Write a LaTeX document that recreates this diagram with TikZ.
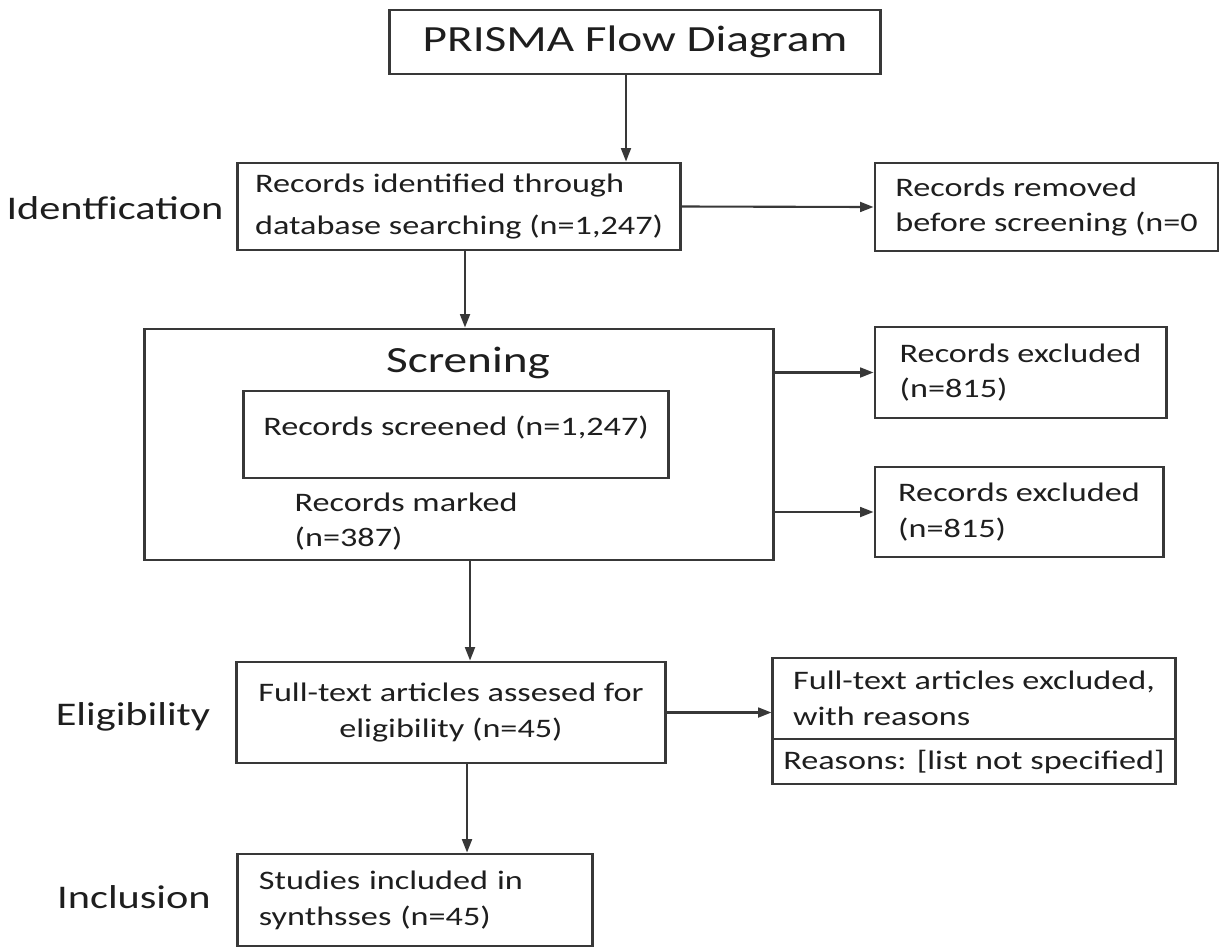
\documentclass[tikz,border=0pt]{standalone}
\usepackage{fontspec}
\setmainfont[FakeStretch=1.28]{Carlito}
\usetikzlibrary{arrows.meta}
\definecolor{linegray}{HTML}{383838}
\definecolor{txtgray}{HTML}{1E1E1E}
\newcommand{\boxtext}{\fontsize{7.6}{10.2}\selectfont}
\newcommand{\headtext}{\fontsize{10.5}{12}\selectfont}
\newcommand{\stagetext}{\fontsize{9.4}{11}\selectfont}
\tikzset{
  box/.style={draw=linegray, line width=0.8pt, text=txtgray, align=left, font=\boxtext, inner sep=0pt},
  arr/.style={draw=linegray, line width=0.6pt, -{Triangle[length=3.8pt,width=2.8pt]}},
  stage/.style={text=txtgray, font=\stagetext, anchor=base, inner sep=0pt},
}

\begin{document}
\begin{tikzpicture}[x=0.01cm,y=-0.01cm]
    \useasboundingbox (0,0) rectangle (1219,948);
    %titolo
    \node[box, font=\headtext, minimum width=4.9cm, minimum height=0.64cm] (title) at (635,42) {PRISMA Flow Diagram};
    %identification
    \node[box, font={\fontsize{7.6}{11.9}\selectfont}, minimum width=4.42cm, minimum height=0.87cm] (ident) at (459,206.5) {Records identified through\\ database searching (n=1,247)};
    \node[box, minimum width=3.43cm, minimum height=0.88cm] (removed) at (1046.5,207) {Records removed\\ before screening (n=0};
    %screening
    \node[box, minimum width=6.28cm, minimum height=2.31cm] (screen) at (459,444.5) {};
    \node[stage, font=\headtext] (screenlab) at (468,372) {Screning};
    \node[box, minimum width=4.24cm, minimum height=0.87cm, text depth=0.18cm] (screened) at (456,434.5) {Records screened (n=1,247)};
    \node[anchor=west, align=left, text=txtgray, font=\boxtext, inner sep=0pt] (marked) at (294,521.5) {Records marked\\ (n=387)};
    \node[box, minimum width=2.91cm, minimum height=0.91cm] (excl1) at (1020.5,372.5) {Records excluded\\ (n=815)};
    \node[box, minimum width=2.88cm, minimum height=0.90cm] (excl2) at (1019,512) {Records excluded\\ (n=815)};
    %eligibility
    \node[box, align=center, minimum width=4.28cm, minimum height=1.01cm] (elig) at (451,712.5) {Full-text articles assesed for\\ eligibility (n=45)};
    \node[box, minimum width=4.02cm, minimum height=0.81cm] (fullx) at (974,698.5) {Full-text articles excluded,\\ with reasons};
    \node[box, minimum width=4.02cm, minimum height=0.45cm] (reasons) at (974,761.5) {Reasons: [list not specified]};
    %inclusion
    \node[box, minimum width=3.54cm, minimum height=0.92cm, text width=3.12cm, inner xsep=0.21cm] (incl) at (415,900) {Studies included in\\ synthsses (n=45)};
    %fasi
    \node[stage] (labIdent) at (115,219) {Identfication};
    \node[stage] (labElig) at (133,725) {Eligibility};
    \node[stage] (labIncl) at (134,908) {Inclusion};
    %frecce
    \draw[arr] ([xshift=-0.09cm]title.south) coordinate (t0) -- (t0 |- ident.north);
    \draw[arr] (ident.east) -- (removed.west);
    \draw[arr] ([xshift=0.06cm]ident.south) coordinate (t1) -- (t1 |- screen.north);
    \draw[arr] (excl1.west -| screen.east) -- (excl1.west);
    \draw[arr] (excl2.west -| screen.east) -- (excl2.west);
    \draw[arr] ([xshift=0.11cm]screen.south) coordinate (t2) -- (t2 |- elig.north);
    \draw[arr] (elig.east) -- (elig.east -| fullx.west);
    \draw[arr] ([xshift=0.16cm]elig.south) coordinate (t3) -- (t3 |- incl.north);
\end{tikzpicture}
\end{document}
